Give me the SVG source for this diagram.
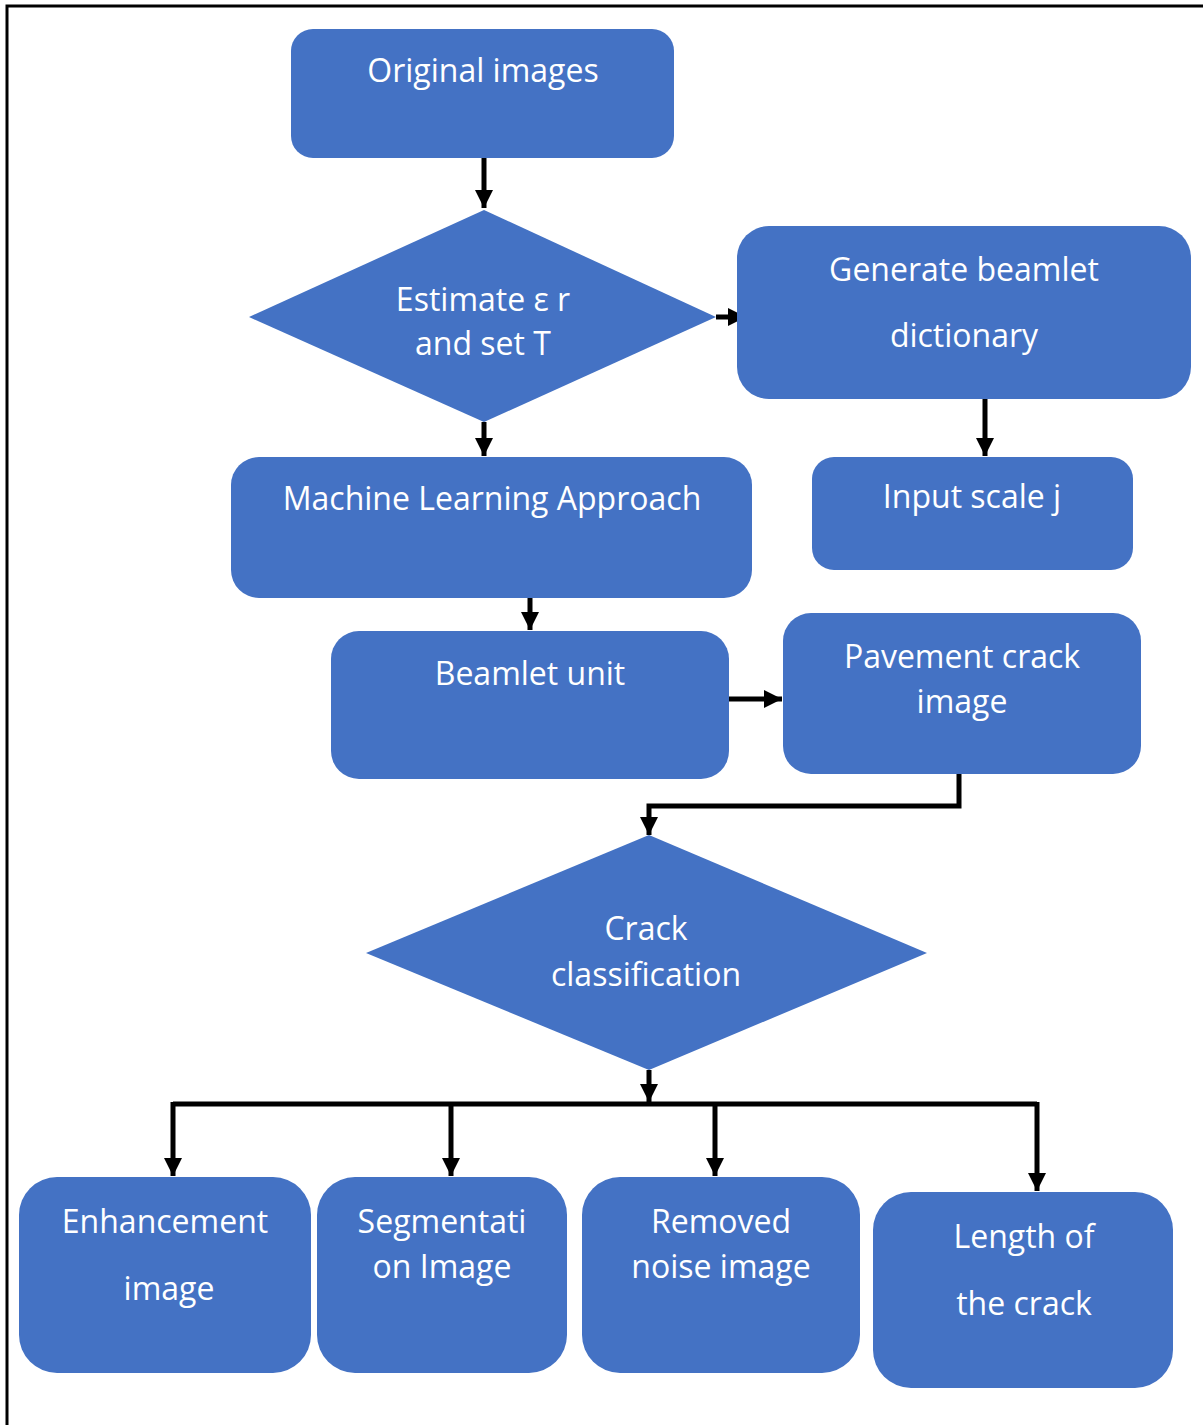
<svg xmlns="http://www.w3.org/2000/svg" width="1203" height="1425" viewBox="0 0 1203 1425">
<style>
.n{fill:#4472C4}
.t{fill:#ffffff;font-family:"Open Sans","Noto Sans","Liberation Sans",sans-serif;font-size:32px;text-anchor:middle}
.c{stroke:#000;stroke-width:5;fill:none}
</style>
<defs>
<marker id="ah" viewBox="0 0 10 10" refX="10" refY="5" markerWidth="3.8" markerHeight="3.6" orient="auto" markerUnits="strokeWidth">
<path d="M0,0 L10,5 L0,10 z" fill="#000"/>
</marker>
</defs>
<rect width="1203" height="1425" fill="#fff"/>
<path d="M7,1425 V6 H1203" stroke="#000" stroke-width="3" fill="none"/>
<g id="connectors">
<path class="c" d="M484,158 V208" marker-end="url(#ah)"/>
<path class="c" d="M716,317 H746" marker-end="url(#ah)"/>
<path class="c" d="M985,399 V456" marker-end="url(#ah)"/>
<path class="c" d="M484,422 V456" marker-end="url(#ah)"/>
<path class="c" d="M530,598 V630" marker-end="url(#ah)"/>
<path class="c" d="M729,699 H782" marker-end="url(#ah)"/>
<path class="c" d="M959,774 V806 H649 V835" marker-end="url(#ah)"/>
<path class="c" d="M649,1070 V1102" marker-end="url(#ah)"/>
<path class="c" d="M173,1104 H1037"/>
<path class="c" d="M173,1102 V1176" marker-end="url(#ah)"/>
<path class="c" d="M451,1104 V1176" marker-end="url(#ah)"/>
<path class="c" d="M715,1104 V1176" marker-end="url(#ah)"/>
<path class="c" d="M1037,1102 V1191" marker-end="url(#ah)"/>
</g>
<g id="original">
<rect class="n" x="291" y="29" width="383" height="129" rx="22"/>
<text class="t" x="483" y="82">Original images</text>
</g>
<g id="estimate">
<polygon class="n" points="484,210 716,317 484,422 249,317"/>
<text class="t" x="483" y="311">Estimate ε r</text>
<text class="t" x="483" y="355">and set T</text>
</g>
<g id="generate">
<rect class="n" x="737" y="226" width="454" height="173" rx="32"/>
<text class="t" x="964" y="281">Generate beamlet</text>
<text class="t" x="964" y="347">dictionary</text>
</g>
<g id="input">
<rect class="n" x="812" y="457" width="321" height="113" rx="22"/>
<text class="t" x="972" y="508">Input scale j</text>
</g>
<g id="ml">
<rect class="n" x="231" y="457" width="521" height="141" rx="28"/>
<text class="t" x="492" y="510">Machine Learning Approach</text>
</g>
<g id="beamlet">
<rect class="n" x="331" y="631" width="398" height="148" rx="28"/>
<text class="t" x="530" y="685">Beamlet unit</text>
</g>
<g id="pavement">
<rect class="n" x="783" y="613" width="358" height="161" rx="28"/>
<text class="t" x="962" y="668">Pavement crack</text>
<text class="t" x="962" y="713">image</text>
</g>
<g id="classification">
<polygon class="n" points="649,835 927,953 649,1070 366,953"/>
<text class="t" x="646" y="940">Crack</text>
<text class="t" x="646" y="986">classification</text>
</g>
<g id="enhancement">
<rect class="n" x="19" y="1177" width="292" height="196" rx="38"/>
<text class="t" x="165" y="1233">Enhancement</text>
<text class="t" x="169" y="1300">image</text>
</g>
<g id="segmentation">
<rect class="n" x="317" y="1177" width="250" height="196" rx="38"/>
<text class="t" x="442" y="1233">Segmentati</text>
<text class="t" x="442" y="1278">on Image</text>
</g>
<g id="removed">
<rect class="n" x="582" y="1177" width="278" height="196" rx="38"/>
<text class="t" x="721" y="1233">Removed</text>
<text class="t" x="721" y="1278">noise image</text>
</g>
<g id="length">
<rect class="n" x="873" y="1192" width="300" height="196" rx="38"/>
<text class="t" x="1024" y="1248">Length of</text>
<text class="t" x="1024" y="1315">the crack</text>
</g>
</svg>
